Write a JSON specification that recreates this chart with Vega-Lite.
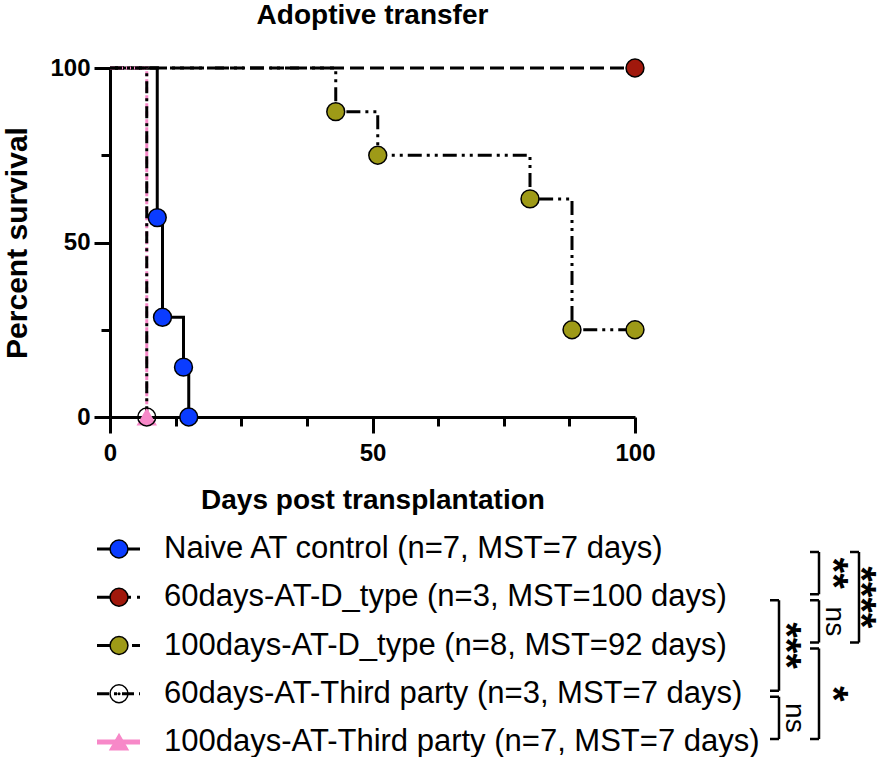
{
  "$schema": "https://vega.github.io/schema/vega-lite/v6.json",
  "background": "white",
  "padding": {"left": 2, "top": 2, "right": 0, "bottom": 0},
  "bounds": "flush",
  "spacing": 132,
  "config": {
    "view": {"stroke": null},
    "font": "Liberation Sans",
    "axis": {
      "grid": false,
      "domainColor": "black",
      "domainWidth": 3,
      "tickColor": "black",
      "tickWidth": 3,
      "labelColor": "black",
      "labelFont": "Liberation Sans",
      "labelFontSize": 24,
      "labelFontWeight": "bold",
      "labelFlush": false,
      "labelOverlap": false,
      "titleColor": "black",
      "titleFont": "Liberation Sans",
      "titleFontSize": 28,
      "titleFontWeight": "bold"
    }
  },
  "datasets": {
    "surv": [
      {"group": "Naive AT control", "day": 0, "pct": 100},
      {"group": "Naive AT control", "day": 9, "pct": 57.14},
      {"group": "Naive AT control", "day": 10, "pct": 28.57},
      {"group": "Naive AT control", "day": 14, "pct": 14.29},
      {"group": "Naive AT control", "day": 15, "pct": 0},
      {"group": "60days-AT-D_type", "day": 0, "pct": 100},
      {"group": "60days-AT-D_type", "day": 100, "pct": 100},
      {"group": "100days-AT-D_type", "day": 0, "pct": 100},
      {"group": "100days-AT-D_type", "day": 43, "pct": 87.5},
      {"group": "100days-AT-D_type", "day": 51, "pct": 75},
      {"group": "100days-AT-D_type", "day": 80, "pct": 62.5},
      {"group": "100days-AT-D_type", "day": 88, "pct": 25},
      {"group": "100days-AT-D_type", "day": 100, "pct": 25},
      {"group": "100days-AT-Third party", "day": 0, "pct": 100},
      {"group": "100days-AT-Third party", "day": 7, "pct": 0},
      {"group": "60days-AT-Third party", "day": 0, "pct": 100},
      {"group": "60days-AT-Third party", "day": 7, "pct": 0}
    ],
    "groups": [
      {"group": "Naive AT control", "row": 1, "label": "Naive AT control (n=7, MST=7 days)"},
      {"group": "60days-AT-D_type", "row": 2, "label": "60days-AT-D_type (n=3, MST=100 days)"},
      {"group": "100days-AT-D_type", "row": 3, "label": "100days-AT-D_type (n=8, MST=92 days)"},
      {"group": "60days-AT-Third party", "row": 4, "label": "60days-AT-Third party (n=3, MST=7 days)"},
      {"group": "100days-AT-Third party", "row": 5, "label": "100days-AT-Third party (n=7, MST=7 days)"}
    ],
    "tests": [
      {"from": 1, "to": 2, "level": 2, "p": "**"},
      {"from": 2, "to": 3, "level": 2, "p": "ns"},
      {"from": 3, "to": 5, "level": 2, "p": "*"},
      {"from": 1, "to": 3, "level": 3, "p": "****"},
      {"from": 2, "to": 4, "level": 1, "p": "***"},
      {"from": 4, "to": 5, "level": 1, "p": "ns"}
    ]
  },
  "vconcat": [
    {
      "width": 525,
      "height": 349,
      "title": {
        "text": "Adoptive transfer",
        "font": "Liberation Sans",
        "fontSize": 28,
        "fontWeight": "bold",
        "color": "black",
        "anchor": "middle",
        "frame": "group",
        "offset": 26
      },
      "data": {"name": "surv"},
      "encoding": {
        "x": {
          "field": "day",
          "type": "quantitative",
          "scale": {"domain": [0, 100], "nice": false, "zero": false},
          "title": "Days post transplantation",
          "axis": {
            "values": [0, 12.5, 25, 37.5, 50, 62.5, 75, 87.5, 100],
            "labelExpr": "datum.value % 50 === 0 ? datum.label : ''",
            "tickSize": {"condition": {"test": "datum.value % 50 === 0", "value": 16}, "value": 9},
            "labelPadding": 8,
            "titlePadding": 21
          }
        },
        "y": {
          "field": "pct",
          "type": "quantitative",
          "scale": {"domain": [0, 100], "nice": false},
          "title": "Percent survival",
          "axis": {
            "values": [0, 25, 50, 75, 100],
            "labelExpr": "datum.value % 50 === 0 ? datum.label : ''",
            "tickSize": {"condition": {"test": "datum.value % 50 === 0", "value": 16}, "value": 9},
            "labelPadding": 4,
            "titlePadding": 17,
            "titleFontSize": 30
          }
        }
      },
      "layer": [
        {
          "mark": {"type": "line", "interpolate": "step-after", "strokeWidth": 3},
          "encoding": {
            "stroke": {
              "field": "group",
              "scale": {
                "domain": ["Naive AT control", "60days-AT-D_type", "100days-AT-D_type", "60days-AT-Third party", "100days-AT-Third party"],
                "range": ["black", "black", "black", "black", "#F788C8"]
              },
              "legend": null
            },
            "strokeDash": {
              "field": "group",
              "scale": {
                "domain": ["Naive AT control", "60days-AT-D_type", "100days-AT-D_type", "60days-AT-Third party", "100days-AT-Third party"],
                "range": [[1, 0], [14, 6], [14, 5, 3, 5, 3, 5], [12, 5, 3, 5], [5, 3]]
              },
              "legend": null
            }
          }
        },
        {
          "transform": [{"filter": "datum.group === '60days-AT-Third party' && datum.day > 0"}],
          "mark": {"type": "point", "filled": true, "size": 10, "color": "black", "opacity": 1}
        },
        {
          "transform": [{"filter": "datum.day > 0"}],
          "mark": {"type": "point", "filled": true, "size": 320, "strokeWidth": 1.5, "opacity": 1},
          "encoding": {
            "fill": {
              "field": "group",
              "scale": {
                "domain": ["Naive AT control", "60days-AT-D_type", "100days-AT-D_type", "60days-AT-Third party", "100days-AT-Third party"],
                "range": ["#0A3CFF", "#A0180C", "#9E9A17", "transparent", "#F788C8"]
              },
              "legend": null
            },
            "stroke": {"field": "group", "legend": null},
            "shape": {
              "field": "group",
              "scale": {
                "domain": ["Naive AT control", "60days-AT-D_type", "100days-AT-D_type", "60days-AT-Third party", "100days-AT-Third party"],
                "range": ["circle", "circle", "circle", "circle", "triangle-up"]
              },
              "legend": null
            }
          }
        }
      ]
    },
    {
      "width": 778,
      "height": 193,
      "layer": [
        {
          "data": {"name": "groups"},
          "mark": {"type": "rule"},
          "encoding": {
            "x": {"datum": -16.05, "type": "quantitative", "scale": {"domain": [-15.725, 3.725], "nice": false, "zero": false}, "axis": null},
            "x2": {"datum": -14.975},
            "y": {"field": "row", "type": "quantitative", "scale": {"domain": [1, 5], "reverse": true, "nice": false, "zero": false}, "axis": null},
            "stroke": {"field": "group", "legend": null},
            "strokeDash": {"condition": {"test": "datum.group === '100days-AT-Third party'", "value": [1, 0]}, "field": "group", "legend": null},
            "strokeWidth": {"condition": {"test": "datum.group === '100days-AT-Third party'", "value": 5}, "value": 3}
          }
        },
        {
          "data": {"name": "groups"},
          "mark": {"type": "point", "filled": true, "size": 320, "strokeWidth": 1.5, "opacity": 1},
          "encoding": {
            "x": {"datum": -15.5, "type": "quantitative", "scale": {"domain": [-15.725, 3.725], "nice": false, "zero": false}, "axis": null},
            "y": {"field": "row", "type": "quantitative", "scale": {"domain": [1, 5], "reverse": true, "nice": false, "zero": false}, "axis": null},
            "fill": {"field": "group", "legend": null},
            "stroke": {"field": "group", "legend": null},
            "shape": {"field": "group", "legend": null}
          }
        },
        {
          "data": {"name": "groups"},
          "transform": [{"filter": "datum.group === '60days-AT-Third party'"}],
          "mark": {"type": "point", "filled": true, "size": 10, "color": "black", "opacity": 1},
          "encoding": {
            "x": {"datum": -15.5, "type": "quantitative", "scale": {"domain": [-15.725, 3.725], "nice": false, "zero": false}, "axis": null},
            "y": {"field": "row", "type": "quantitative", "scale": {"domain": [1, 5], "reverse": true, "nice": false, "zero": false}, "axis": null}
          }
        },
        {
          "data": {"name": "groups"},
          "mark": {"type": "text", "align": "left", "baseline": "middle", "font": "Liberation Sans", "fontSize": 31, "color": "black"},
          "encoding": {
            "x": {"datum": -14.375, "type": "quantitative", "scale": {"domain": [-15.725, 3.725], "nice": false, "zero": false}, "axis": null},
            "y": {"field": "row", "type": "quantitative", "scale": {"domain": [1, 5], "reverse": true, "nice": false, "zero": false}, "axis": null},
            "text": {"field": "label"}
          }
        },
        {
          "data": {"name": "tests"},
          "mark": {"type": "rule", "strokeWidth": 2.5, "color": "black", "yOffset": 3, "y2Offset": -3},
          "encoding": {
            "x": {"field": "level", "type": "quantitative", "scale": {"domain": [-15.725, 3.725], "nice": false, "zero": false}, "axis": null},
            "y": {"field": "from", "type": "quantitative", "scale": {"domain": [1, 5], "reverse": true, "nice": false, "zero": false}, "axis": null},
            "y2": {"field": "to"}
          }
        },
        {
          "data": {"name": "tests"},
          "mark": {"type": "rule", "strokeWidth": 2.5, "color": "black", "yOffset": 3, "x2Offset": -9},
          "encoding": {
            "x": {"field": "level", "type": "quantitative", "scale": {"domain": [-15.725, 3.725], "nice": false, "zero": false}, "axis": null},
            "x2": {"field": "level"},
            "y": {"field": "from", "type": "quantitative", "scale": {"domain": [1, 5], "reverse": true, "nice": false, "zero": false}, "axis": null}
          }
        },
        {
          "data": {"name": "tests"},
          "mark": {"type": "rule", "strokeWidth": 2.5, "color": "black", "yOffset": -3, "x2Offset": -9},
          "encoding": {
            "x": {"field": "level", "type": "quantitative", "scale": {"domain": [-15.725, 3.725], "nice": false, "zero": false}, "axis": null},
            "x2": {"field": "level"},
            "y": {"field": "to", "type": "quantitative", "scale": {"domain": [1, 5], "reverse": true, "nice": false, "zero": false}, "axis": null}
          }
        },
        {
          "data": {"name": "tests"},
          "transform": [
            {"filter": "datum.p !== 'ns' && datum.level === 1"},
            {"calculate": "(datum.from + datum.to) / 2", "as": "mid"}
          ],
          "mark": {"type": "text", "angle": 90, "align": "center", "baseline": "top", "font": "Liberation Sans", "fontSize": 40, "fontWeight": "bold", "color": "black", "xOffset": 26},
          "encoding": {
            "x": {"field": "level", "type": "quantitative", "scale": {"domain": [-15.725, 3.725], "nice": false, "zero": false}, "axis": null},
            "y": {"field": "mid", "type": "quantitative", "scale": {"domain": [1, 5], "reverse": true, "nice": false, "zero": false}, "axis": null},
            "text": {"field": "p"}
          }
        },
        {
          "data": {"name": "tests"},
          "transform": [
            {"filter": "datum.p !== 'ns' && datum.level === 2"},
            {"calculate": "(datum.from + datum.to) / 2", "as": "mid"}
          ],
          "mark": {"type": "text", "angle": 90, "align": "center", "baseline": "top", "font": "Liberation Sans", "fontSize": 40, "fontWeight": "bold", "color": "black", "xOffset": 33},
          "encoding": {
            "x": {"field": "level", "type": "quantitative", "scale": {"domain": [-15.725, 3.725], "nice": false, "zero": false}, "axis": null},
            "y": {"field": "mid", "type": "quantitative", "scale": {"domain": [1, 5], "reverse": true, "nice": false, "zero": false}, "axis": null},
            "text": {"field": "p"}
          }
        },
        {
          "data": {"name": "tests"},
          "transform": [
            {"filter": "datum.p !== 'ns' && datum.level === 3"},
            {"calculate": "(datum.from + datum.to) / 2", "as": "mid"}
          ],
          "mark": {"type": "text", "angle": 90, "align": "center", "baseline": "top", "font": "Liberation Sans", "fontSize": 40, "fontWeight": "bold", "color": "black", "xOffset": 21},
          "encoding": {
            "x": {"field": "level", "type": "quantitative", "scale": {"domain": [-15.725, 3.725], "nice": false, "zero": false}, "axis": null},
            "y": {"field": "mid", "type": "quantitative", "scale": {"domain": [1, 5], "reverse": true, "nice": false, "zero": false}, "axis": null},
            "text": {"field": "p"}
          }
        },
        {
          "data": {"name": "tests"},
          "transform": [
            {"filter": "datum.p === 'ns'"},
            {"calculate": "(datum.from + datum.to) / 2", "as": "mid"}
          ],
          "mark": {"type": "text", "angle": 90, "align": "center", "baseline": "middle", "font": "Liberation Sans", "fontSize": 28, "color": "black", "xOffset": 15},
          "encoding": {
            "x": {"field": "level", "type": "quantitative", "scale": {"domain": [-15.725, 3.725], "nice": false, "zero": false}, "axis": null},
            "y": {"field": "mid", "type": "quantitative", "scale": {"domain": [1, 5], "reverse": true, "nice": false, "zero": false}, "axis": null},
            "text": {"field": "p"}
          }
        }
      ]
    }
  ]
}
